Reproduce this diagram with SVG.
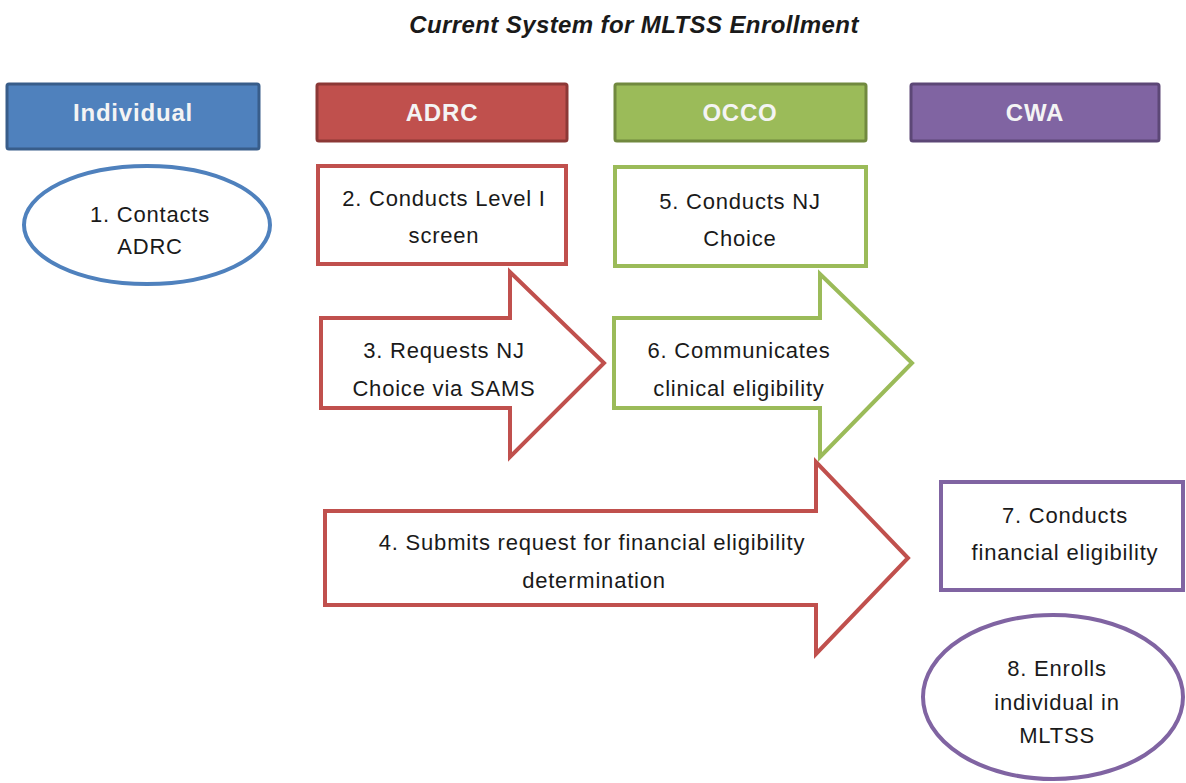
<svg xmlns="http://www.w3.org/2000/svg" width="1186" height="783" viewBox="0 0 1186 783">
  <style>
    .title { font-family: "Liberation Sans", Arial, sans-serif; font-size: 24px; font-weight: bold; font-style: italic; fill: #1a1a1a; letter-spacing: 0.4px; }
    .head { font-family: "Liberation Sans", Arial, sans-serif; font-size: 24px; font-weight: bold; fill: #f4f4f4; letter-spacing: 0.8px; }
    .lbl { font-family: "Liberation Sans", Arial, sans-serif; font-size: 22px; fill: #1a1a1a; letter-spacing: 0.8px; }
    .outline { fill: #ffffff; stroke-width: 4; stroke-linejoin: miter; }
    .blue { stroke: #4f81bd; }
    .red { stroke: #c0504d; }
    .green { stroke: #9bbb59; }
    .purple { stroke: #8064a2; }
    .hdr { stroke-width: 3; }
  </style>

  <text class="title" x="634" y="33" text-anchor="middle">Current System for MLTSS Enrollment</text>

  <!-- column headers -->
  <g id="hdr-individual">
    <rect class="hdr" x="7" y="84" width="252" height="65" rx="2" fill="#4f81bd" stroke="#385d8a"/>
    <text class="head" x="133" y="121" text-anchor="middle">Individual</text>
  </g>
  <g id="hdr-adrc">
    <rect class="hdr" x="317" y="84" width="250" height="57" rx="2" fill="#c0504d" stroke="#8c3836"/>
    <text class="head" x="442" y="121" text-anchor="middle">ADRC</text>
  </g>
  <g id="hdr-occo">
    <rect class="hdr" x="615" y="84" width="251" height="57" rx="2" fill="#9bbb59" stroke="#71893f"/>
    <text class="head" x="740" y="121" text-anchor="middle">OCCO</text>
  </g>
  <g id="hdr-cwa">
    <rect class="hdr" x="911" y="84" width="248" height="57" rx="2" fill="#8064a2" stroke="#5c4776"/>
    <text class="head" x="1035" y="121" text-anchor="middle">CWA</text>
  </g>

  <!-- step arrows -->
  <g id="connectors">
    <g id="step3">
      <path class="outline red" d="M321,318 L510,318 L510,272 L604,363 L510,457 L510,408 L321,408 Z"/>
      <text class="lbl" x="444" y="358" text-anchor="middle">3. Requests NJ</text>
      <text class="lbl" x="444" y="396" text-anchor="middle">Choice via SAMS</text>
    </g>
    <g id="step6">
      <path class="outline green" d="M614,318 L820,318 L820,274 L912,363 L820,457 L820,408 L614,408 Z"/>
      <text class="lbl" x="739" y="358" text-anchor="middle">6. Communicates</text>
      <text class="lbl" x="739" y="396" text-anchor="middle">clinical eligibility</text>
    </g>
    <g id="step4">
      <path class="outline red" d="M325,511 L816,511 L816,462 L908,558 L816,654 L816,605 L325,605 Z"/>
      <text class="lbl" x="592" y="550" text-anchor="middle">4. Submits request for financial eligibility</text>
      <text class="lbl" x="594" y="588" text-anchor="middle">determination</text>
    </g>
  </g>

  <!-- step nodes -->
  <g id="step1">
    <ellipse class="outline blue" cx="147" cy="225" rx="123" ry="59"/>
    <text class="lbl" x="150" y="222" text-anchor="middle">1. Contacts</text>
    <text class="lbl" x="150" y="254" text-anchor="middle">ADRC</text>
  </g>
  <g id="step2">
    <rect class="outline red" x="318" y="166" width="248" height="98"/>
    <text class="lbl" x="444" y="206" text-anchor="middle">2. Conducts Level I</text>
    <text class="lbl" x="444" y="243" text-anchor="middle">screen</text>
  </g>
  <g id="step5">
    <rect class="outline green" x="615" y="167" width="251" height="99"/>
    <text class="lbl" x="740" y="209" text-anchor="middle">5. Conducts NJ</text>
    <text class="lbl" x="740" y="246" text-anchor="middle">Choice</text>
  </g>
  <g id="step7">
    <rect class="outline purple" x="941" y="482" width="242" height="108"/>
    <text class="lbl" x="1065" y="523" text-anchor="middle">7. Conducts</text>
    <text class="lbl" x="1065" y="560" text-anchor="middle">financial eligibility</text>
  </g>
  <g id="step8">
    <ellipse class="outline purple" cx="1053" cy="697" rx="130" ry="82"/>
    <text class="lbl" x="1057" y="676" text-anchor="middle">8. Enrolls</text>
    <text class="lbl" x="1057" y="710" text-anchor="middle">individual in</text>
    <text class="lbl" x="1057" y="743" text-anchor="middle">MLTSS</text>
  </g>
</svg>
